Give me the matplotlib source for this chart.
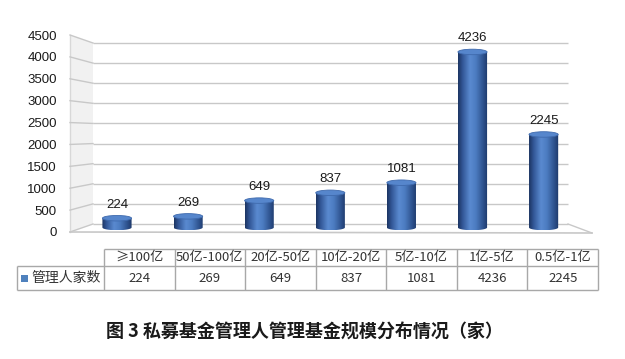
import numpy as np
import matplotlib
matplotlib.use("Agg")
import matplotlib.pyplot as plt
from matplotlib.colors import LinearSegmentedColormap
from matplotlib.path import Path
from matplotlib.patches import PathPatch, Polygon, Ellipse, Rectangle
from matplotlib.lines import Line2D

categories = ["≥100亿", "50亿-100亿", "20亿-50亿", "10亿-20亿", "5亿-10亿", "1亿-5亿", "0.5亿-1亿"]
counts = [224, 269, 649, 837, 1081, 4236, 2245]
series_name = "管理人家数"
y_ticks = [0, 500, 1000, 1500, 2000, 2500, 3000, 3500, 4000, 4500]
title = "图 3 私募基金管理人管理基金规模分布情况（家）"

W, H = 625, 359
fig = plt.figure(figsize=(W / 100, H / 100), dpi=100)

def fx(px):
    return px / W

def fy(py):
    return 1 - py / H

grid_col = "#c8c8c8"
num_font = "Liberation Sans"
cjk = ["Noto Sans CJK SC", "DejaVu Sans"]
x_lo, x_hi = (93 - 117) / 71.1, (568 - 117) / 71.1

# back wall: value 0 at y=224px, 4500 at y=43px
axb = fig.add_axes([fx(93), fy(224), fx(568) - fx(93), (224 - 43) / H])
axb.axis("off")
axb.set_xlim(x_lo, x_hi)
axb.set_ylim(0, 4500)
axb.hlines(y_ticks, x_lo, x_hi, color=grid_col, lw=1, clip_on=False)

# bar plane (slightly in front): 0 at y=227.5px, 4500 at y=41px
y_lo = -300
px_per = (227.5 - 41) / 4500
bottom_px = 227.5 - y_lo * px_per
ax = fig.add_axes([fx(93), fy(bottom_px), fx(568) - fx(93), (bottom_px - 41) / H])
ax.axis("off")

cyl = LinearSegmentedColormap.from_list(
    "cyl", [(0, "#1b3462"), (0.15, "#325696"), (0.4, "#5a8ad0"), (0.6, "#4c7cc1"),
            (0.85, "#2d518c"), (1, "#1d3868")])
grad = np.linspace(0, 1, 128)[None, :]
bw = 0.41
eh = 5.5 / px_per
for i, v in enumerate(counts):
    x0, x1 = i - bw / 2, i + bw / 2
    t = np.linspace(np.pi, 2 * np.pi, 40)
    arc = np.column_stack([i + bw / 2 * np.cos(t), eh / 2 * np.sin(t)])
    verts = np.vstack([[x0, v], [x0, 0], arc, [x1, v], [x0, v]])
    codes = [Path.MOVETO] + [Path.LINETO] * (len(verts) - 2) + [Path.CLOSEPOLY]
    body = PathPatch(Path(verts, codes), facecolor="none", edgecolor="none")
    ax.add_patch(body)
    im = ax.imshow(grad, cmap=cyl, extent=(x0, x1, -eh / 2, v), aspect="auto",
                   interpolation="bilinear", zorder=2)
    im.set_clip_path(body)
    ax.add_patch(Ellipse((i, v), bw, eh, facecolor="#5686cc", edgecolor="#3f6aad",
                         lw=0.6, zorder=3))
    ax.annotate(str(v), (i, v), xytext=(0, 5.5), textcoords="offset points",
                ha="center", va="bottom", fontsize=9.5, family=num_font,
                color="#1a1a1a", zorder=4)

ax.set_xlim(x_lo, x_hi)
ax.set_ylim(y_lo, 4500)

# front axis with the tick labels: 0 at y=232px, 4500 at y=35px
axf = fig.add_axes([fx(70), fy(232), 0.0005, (232 - 35) / H])
axf.patch.set_visible(False)
for s in axf.spines.values():
    s.set_visible(False)
axf.set_ylim(0, 4500)
axf.set_xlim(0, 1)
axf.set_xticks([])
axf.set_yticks(y_ticks)
axf.tick_params(axis="y", length=0, pad=9.4, labelsize=9.5, labelcolor="#1a1a1a")
for lab in axf.get_yticklabels():
    lab.set_family(num_font)

# left wall, floor and the slanted wall lines (figure coordinates)
fig.patches.append(Polygon([(fx(70), fy(35)), (fx(93), fy(43)), (fx(93), fy(224)), (fx(70), fy(232))],
                           closed=True, transform=fig.transFigure, facecolor="#f1f1f1",
                           edgecolor="none", zorder=-3))
fig.lines.append(Line2D([fx(70), fx(70)], [fy(35), fy(232)], transform=fig.transFigure,
                        color="#d8d8d8", lw=1, zorder=-2))
fig.lines.append(Line2D([fx(70), fx(592)], [fy(232), fy(233)], transform=fig.transFigure,
                        color=grid_col, lw=1.2, zorder=-2))
fig.lines.append(Line2D([fx(568), fx(592)], [fy(224), fy(233)], transform=fig.transFigure,
                        color=grid_col, lw=1, zorder=-2))
to_fig = fig.transFigure.inverted()
for v in y_ticks:
    p0 = to_fig.transform(axf.transData.transform((0, v)))
    p1 = to_fig.transform(axb.transData.transform((x_lo, v)))
    fig.lines.append(Line2D([p0[0], p1[0]], [p0[1], p1[1]], transform=fig.transFigure,
                            color=grid_col, lw=1, zorder=-2))

# data table
tax = fig.add_axes([fx(17), fy(290), fx(598) - fx(17), (290 - 249) / H])
tax.axis("off")
lab_w = 87 / ((598 - 104) / 7)
n = len(categories)
tax.set_xlim(-lab_w, n)
tax.set_ylim(0, 1)
mid = 24 / 41
tcol = "#a8a8a8"
tax.hlines(1, 0, n, color=tcol, lw=1, clip_on=False)
tax.hlines([mid, 0], -lab_w, n, color=tcol, lw=1, clip_on=False)
tax.vlines(-lab_w, 0, mid, color=tcol, lw=1, clip_on=False)
tax.vlines(np.arange(n + 1), 0, 1, color=tcol, lw=1, clip_on=False)
for i, (c, v) in enumerate(zip(categories, counts)):
    tax.text(i + 0.5, (1 + mid) / 2, c, ha="center", va="center", fontsize=9.5,
             family=cjk, color="#333333")
    tax.text(i + 0.5, mid / 2, str(v), ha="center", va="center", fontsize=9.5,
             family=cjk, color="#333333")
sq = 7 / ((598 - 104) / 7)
tax.add_patch(Rectangle((-lab_w + 4.5 / 70.6, mid / 2 - 0.09), sq * 0.95, 0.17,
                        facecolor="#4f81bd", edgecolor="none"))
tax.text(-lab_w + 14 / 70.6, mid / 2, series_name, ha="left", va="center", fontsize=10,
         family=cjk, color="#333333")

fig.text(fx(304.5), fy(332), title, ha="center", va="center", fontsize=13,
         fontweight="bold", family=cjk, color="#1a1a1a")

fig.savefig("out.png", dpi=100, facecolor="white")
